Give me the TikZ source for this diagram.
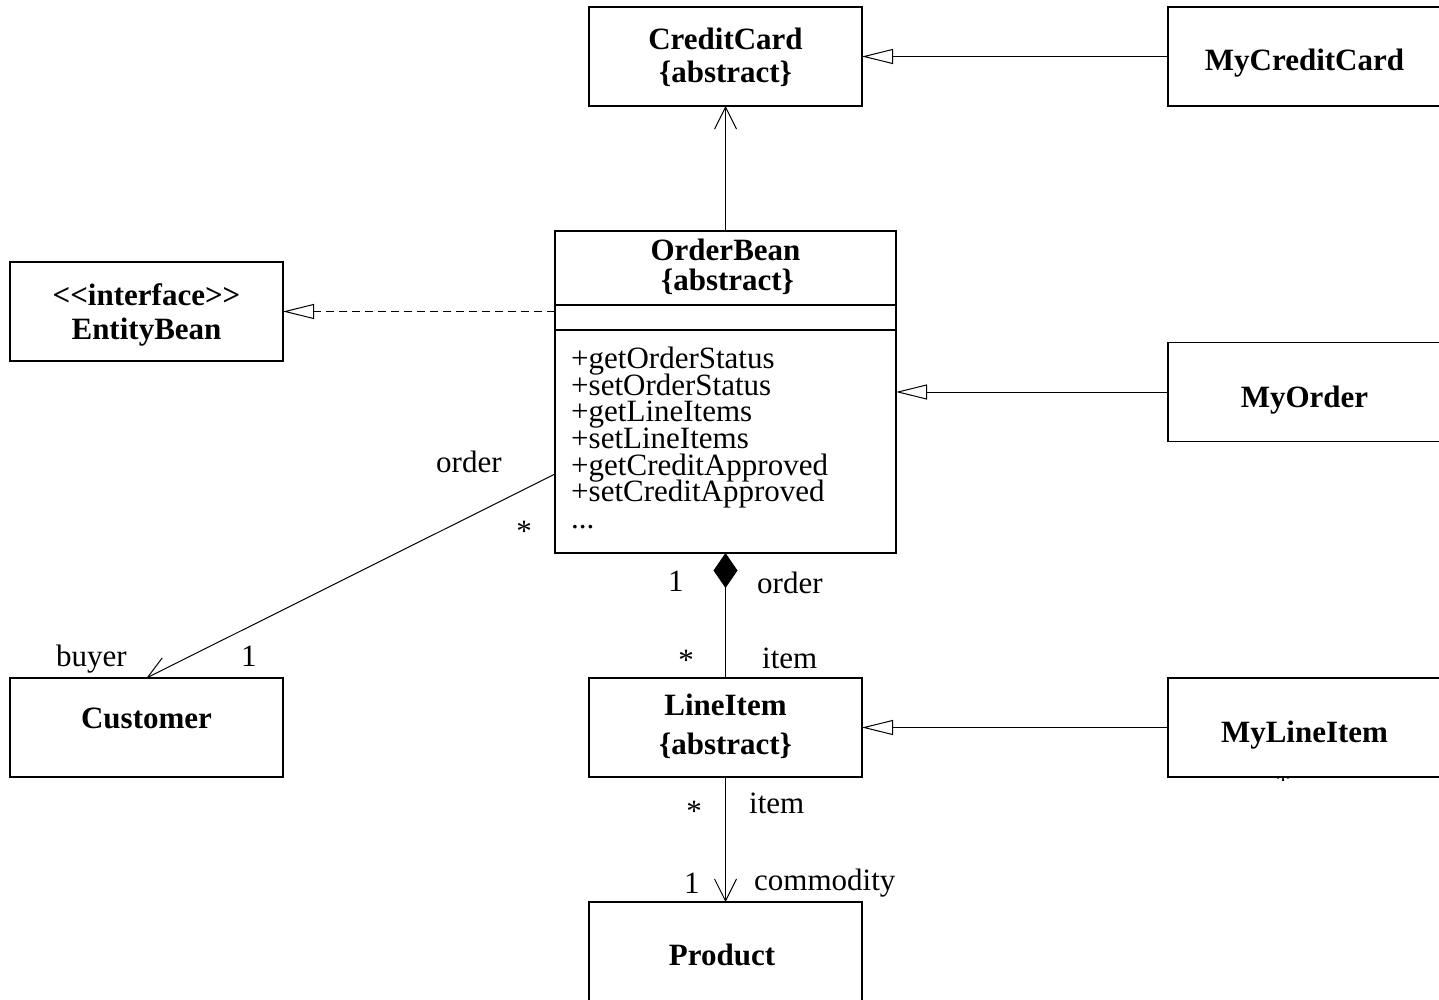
\documentclass[tikz,border=0pt]{standalone}
\usepackage{fontspec}
\setmainfont{Liberation Serif}
\usetikzlibrary{arrows.meta}
\begin{document}
\begin{tikzpicture}[x=1pt,y=-1pt,
  box/.style={draw, line width=1.3pt, fill=white, minimum width=273pt, minimum height=99pt, inner sep=0pt, outer sep=0pt},
  ttl/.style={anchor=base, inner sep=0pt, font=\bfseries\fontsize{31}{34}\selectfont},
  lbl/.style={anchor=base west, inner sep=0pt, font=\fontsize{31}{34}\selectfont},
  star/.style={anchor=base, inner sep=0pt, font=\fontsize{31}{34}\selectfont},
  conn/.style={line width=1pt},
  gen/.style={conn, -{Triangle[open, length=31pt, width=15pt, fill=white]}},
  nav/.style={conn, -{Straight Barb[length=22pt, width=22pt, line width=1pt]}},
  comp/.style={conn, {Diamond[length=35pt, width=24pt]}-}
]
\useasboundingbox (0,0) rectangle (1439,1000);
\clip (0,0) rectangle (1439,1000);

% asterisk partly hidden under MyLineItem
\node[star] (mlstar) at (1283,790) {*};

% boxes
\node[box] (cc) at (725.5,56.5) {};
\node[box] (mcc) at (1304.5,56.5) {};
\node[box, minimum width=341pt, minimum height=322pt] (ob) at (725.5,392) {};
\node[box] (eb) at (146.5,311.5) {};
\node[box] (mo) at (1304.5,392) {};
\node[box] (cu) at (146.5,727.5) {};
\node[box] (li) at (725.5,727.5) {};
\node[box] (ml) at (1304.5,727.5) {};
\node[box] (pr) at (725.5,951.5) {};

% OrderBean compartments
\coordinate (s1l) at (555,305); \coordinate (s1r) at (896,305);
\coordinate (s2l) at (555,330); \coordinate (s2r) at (896,330);
\draw[line width=1.3pt] (s1l) -- (s1r);
\draw[line width=1.3pt] (s2l) -- (s2r);

% titles
\node[ttl] (cct1) at (725.5,50) {CreditCard};
\node[ttl] (cct2) at (725.5,83) {\{abstract\}};
\node[ttl] (mcct) at (1304.5,71) {MyCreditCard};
\node[ttl] (obt1) at (725.5,261) {OrderBean};
\node[ttl] (obt2) at (727.5,290) {\{abstract\}};
\node[ttl] (ebt1) at (146.5,305) {<\kern0pt<interface>\kern0pt>};
\node[ttl] (ebt2) at (146.5,339) {EntityBean};
\node[ttl] (mot) at (1304.5,407) {MyOrder};
\node[ttl] (cut) at (146.5,728) {Customer};
\node[ttl] (lit1) at (725.5,715) {LineItem};
\node[ttl] (lit2) at (725.5,754) {\{abstract\}};
\node[ttl] (mlt) at (1304.5,742) {MyLineItem};
\node[ttl] (prt) at (722,965) {Product};

% methods
\node[lbl] (m1) at (571,368) {+getOrderStatus};
\node[lbl] (m2) at (571,395) {+setOrderStatus};
\node[lbl] (m3) at (571,421.5) {+getLineItems};
\node[lbl] (m4) at (571,448) {+setLineItems};
\node[lbl] (m5) at (571,475) {+getCreditApproved};
\node[lbl] (m6) at (571,501.5) {+setCreditApproved};
\node[lbl] (m7) at (571,528) {...};

% connectors
\coordinate (obc) at (555,474);
\draw[nav] (ob.north) -- (cc.south);
\draw[gen] (mcc.west) -- (cc.east);
\draw[gen, dash pattern=on 8pt off 5pt] (ob.west |- eb.east) -- (eb.east);
\draw[gen] (mo.west) -- (ob.east |- mo.west);
\draw[nav] (obc) -- (cu.north);
\draw[comp] (ob.south) -- (li.north);
\draw[nav] (li.south) -- (pr.north);
\draw[gen] (ml.west) -- (li.east);

% association labels
\node[lbl] (l1) at (436,472) {order};
\node[star] (l2) at (524,541) {*};
\node[lbl] (l3) at (56,666) {buyer};
\node[lbl] (l4) at (241,666) {1};
\node[lbl] (l5) at (668,591) {1};
\node[lbl] (l6) at (757,593) {order};
\node[star] (l7) at (686,670) {*};
\node[lbl] (l8) at (762,668) {item};
\node[star] (l9) at (694,821) {*};
\node[lbl] (l10) at (749,813) {item};
\node[lbl] (l11) at (684,893) {1};
\node[lbl] (l12) at (754,890) {commodity};
\end{tikzpicture}
\end{document}
